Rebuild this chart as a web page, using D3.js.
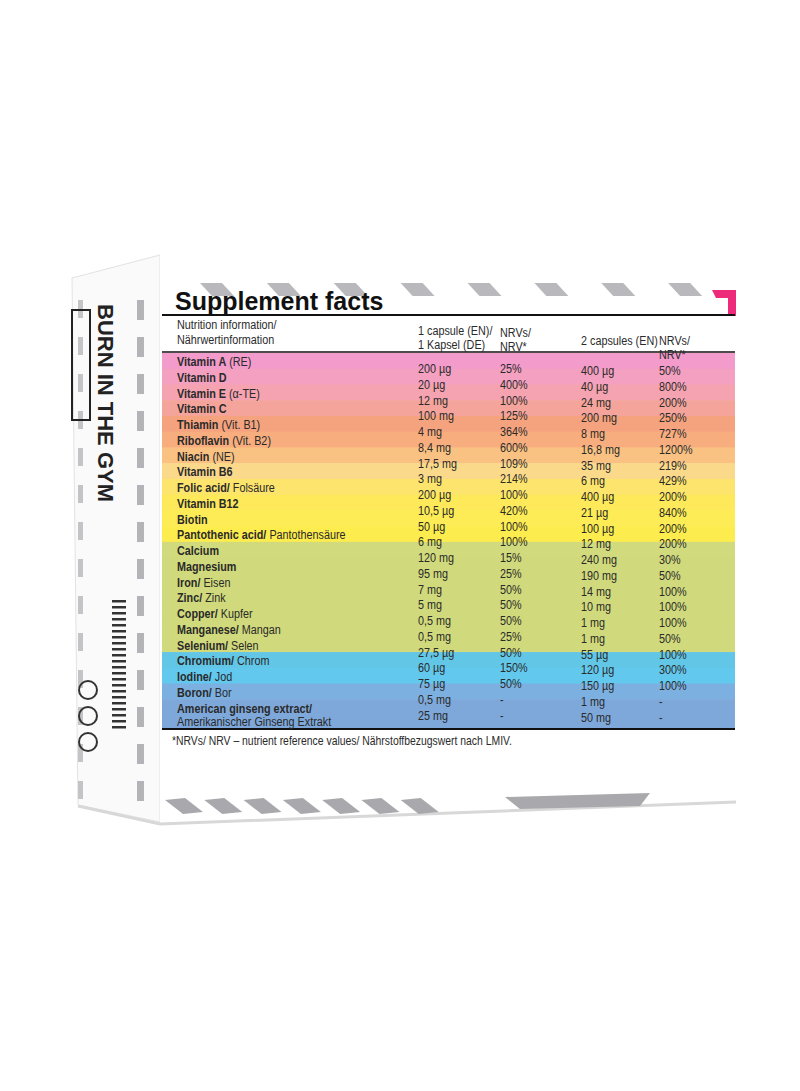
<!DOCTYPE html>
<html><head><meta charset="utf-8">
<script src="https://cdn.jsdelivr.net/npm/d3@7"></script>
<style>body{margin:0;background:#fff}svg{display:block}
text{font-family:"Liberation Sans",Arial,sans-serif;fill:#2a2a2a}</style>
</head><body><svg id="c" width="800" height="1091"></svg>
<script>
const namesBold=["Vitamin A","Vitamin D","Vitamin E","Vitamin C","Thiamin","Riboflavin","Niacin","Vitamin B6","Folic acid/","Vitamin B12","Biotin","Pantothenic acid/","Calcium","Magnesium","Iron/","Zinc/","Copper/","Manganese/","Selenium/","Chromium/","Iodine/","Boron/","American ginseng extract/"];
const namesLight=[" (RE)",""," (α-TE)",""," (Vit. B1)"," (Vit. B2)"," (NE)",""," Folsäure","",""," Pantothensäure","",""," Eisen"," Zink"," Kupfer"," Mangan"," Selen"," Chrom"," Jod"," Bor",""];
const cap1=["200 µg","20 µg","12 mg","100 mg","4 mg","8,4 mg","17,5 mg","3 mg","200 µg","10,5 µg","50 µg","6 mg","120 mg","95 mg","7 mg","5 mg","0,5 mg","0,5 mg","27,5 µg","60 µg","75 µg","0,5 mg","25 mg"];
const nrv1=["25%","400%","100%","125%","364%","600%","109%","214%","100%","420%","100%","100%","15%","25%","50%","50%","50%","25%","50%","150%","50%","-","-"];
const cap2=["400 µg","40 µg","24 mg","200 mg","8 mg","16,8 mg","35 mg","6 mg","400 µg","21 µg","100 µg","12 mg","240 mg","190 mg","14 mg","10 mg","1 mg","1 mg","55 µg","120 µg","150 µg","1 mg","50 mg"];
const nrv2=["50%","800%","200%","250%","727%","1200%","219%","429%","200%","840%","200%","200%","30%","50%","100%","100%","100%","50%","100%","300%","100%","-","-"];
const bandColors=["#f39bca","#f4a0c0","#f5a3b0","#f4a49a","#f5a37f","#f7ad7e","#f9c283","#fbd98a","#fde46d","#fde95a","#fdec55","#fcec4e","#d1da7c","#d0d97b","#d0d97b","#d0d97b","#d0d97b","#d0d97b","#d0d97b","#62c6e6","#63c8ee","#7cb0e0","#7ea8da"];

const svg=d3.select("#c");
const SX=0.8;
function txt(parent,x,y,size,str){return parent.append("text").attr("transform",`translate(${x},${y}) scale(${SX},1)`).attr("font-size",size).text(str);}

svg.append("polygon").attr("points","72,278 160,255 160,822 78,805").attr("fill","#fafafa").attr("stroke","#e2e2e2");
svg.append("polygon").attr("points","160,255 736,268 736,800 160,822").attr("fill","#fff");
svg.append("path").attr("d","M78,806 L160,824 L736,802").attr("fill","none").attr("stroke","#d8d8d8").attr("stroke-width",3);
const xd=d3.scaleLinear().domain([0,8]).range([200,735]);
svg.selectAll(".dt").data(d3.range(8)).join("polygon").attr("points",d=>{const x=xd(d);return `${x},283 ${x+22},283 ${x+34},296 ${x+12},296`}).attr("fill","#b9b9bd");
const xb=d3.scaleLinear().domain([0,7]).range([165,440]);
svg.selectAll(".db").data(d3.range(7)).join("polygon").attr("points",d=>{const x=xb(d);return `${x},800 ${x+20},798 ${x+38},812 ${x+18},814`}).attr("fill","#a9a9ad");
svg.append("polygon").attr("points","505,797 650,793 640,806 520,809").attr("fill","#a9a9ad");
svg.selectAll(".dl").data(d3.range(14)).join("rect").attr("x",137).attr("y",d=>300+d*37).attr("width",7).attr("height",20).attr("fill","#b4b4b8");
svg.selectAll(".dl2").data(d3.range(14)).join("rect").attr("x",78).attr("y",d=>300+d*37).attr("width",5).attr("height",18).attr("fill","#c4c4c8");
const side=svg.append("g").attr("transform","translate(96,300) rotate(90)");
side.append("text").text("BURN IN THE GYM").attr("x",4).attr("y",-2).attr("font-size",22).attr("font-weight","bold").style("fill","#222");
side.append("rect").attr("x",10).attr("y",6).attr("width",110).attr("height",18).attr("fill","none").attr("stroke","#222").attr("stroke-width",2);
svg.selectAll(".bc").data(d3.range(22)).join("rect").attr("x",112).attr("y",d=>600+d*6).attr("width",14).attr("height",2.5).attr("fill","#333");
svg.selectAll(".cir").data([0,1,2]).join("circle").attr("cx",88).attr("cy",d=>690+d*26).attr("r",9).attr("fill","none").attr("stroke","#333").attr("stroke-width",2);
svg.append("polygon").attr("points","712,290 736,290 736,316 728,316 728,298 716,298").attr("fill","#ee2a7b");

svg.append("text").text("Supplement facts").attr("x",175).attr("y",310).attr("font-size",25).attr("font-weight","bold").style("fill","#111");
svg.append("line").attr("x1",162).attr("x2",735).attr("y1",315).attr("y2",315).attr("stroke","#111").attr("stroke-width",2);

const y=d3.scaleBand().domain(d3.range(namesBold.length)).range([353,715]);
const rowH=y.bandwidth();
svg.selectAll(".band").data(namesBold).join("rect").attr("x",162).attr("width",573)
 .attr("y",(d,i)=>y(i)).attr("height",(d,i)=>i===namesBold.length-1?729-y(i):rowH+0.6).attr("fill",(d,i)=>bandColors[i]);
svg.append("line").attr("x1",162).attr("x2",735).attr("y1",352).attr("y2",352).attr("stroke","#111").attr("stroke-width",1.5);
svg.append("line").attr("x1",162).attr("x2",735).attr("y1",729).attr("y2",729).attr("stroke","#111").attr("stroke-width",2);

const fs=13.5;
const hdr=[["Nutrition information/",177,329],["Nährwertinformation",177,344],["1 capsule (EN)/",418,335],["1 Kapsel (DE)",418,349],["NRVs/",500,337],["NRV*",500,351],["2 capsules (EN)",581,345],["NRVs/",659,345],["NRV*",659,359]];
hdr.forEach(h=>txt(svg,h[1],h[2],fs,h[0]));

const nm=svg.selectAll(".nm").data(namesBold).join("text").attr("transform",(d,i)=>`translate(177,${y(i)+rowH-2.5}) scale(${SX},1)`).attr("font-size",fs);
nm.append("tspan").attr("font-weight","bold").text(d=>d);
nm.append("tspan").text((d,i)=>namesLight[i]);
txt(svg,177,726,fs,"Amerikanischer Ginseng Extrakt");
const cols=[[cap1,418,6],[nrv1,500,6],[cap2,581,8],[nrv2,659,8]];
cols.forEach(([arr,x,dy])=>{
 svg.selectAll(null).data(arr).join("text").attr("transform",(d,i)=>`translate(${x},${y(i)+rowH+dy-1.5}) scale(${SX},1)`).attr("font-size",fs).text(d=>d);
});
txt(svg,172,745,13,"*NRVs/ NRV – nutrient reference values/ Nährstoffbezugswert nach LMIV.");
</script></body></html>
